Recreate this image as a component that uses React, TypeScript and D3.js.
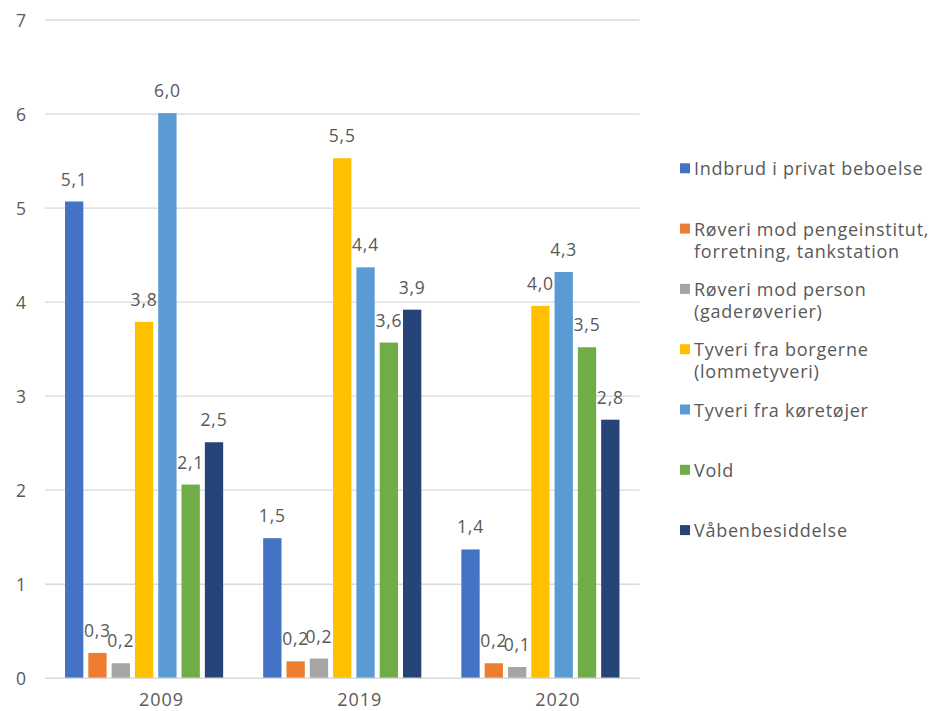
import React from "react";
import * as d3 from "d3";

const categories = ["2009", "2019", "2020"];
const seriesNames = [
  "Indbrud i privat beboelse",
  "Røveri mod pengeinstitut, forretning, tankstation",
  "Røveri mod person (gaderøverier)",
  "Tyveri fra borgerne (lommetyveri)",
  "Tyveri fra køretøjer",
  "Vold",
  "Våbenbesiddelse",
];
const legendLines = [
  ["Indbrud i privat beboelse"],
  ["Røveri mod pengeinstitut,", "forretning, tankstation"],
  ["Røveri mod person", "(gaderøverier)"],
  ["Tyveri fra borgerne", "(lommetyveri)"],
  ["Tyveri fra køretøjer"],
  ["Vold"],
  ["Våbenbesiddelse"],
];
const colors = ["#4472C4", "#ED7D31", "#A5A5A5", "#FFC000", "#5B9BD5", "#70AD47", "#264478"];
// values[series][category]
const indbrud = [5.07, 1.49, 1.37];
const roveriPenge = [0.27, 0.18, 0.16];
const roveriPerson = [0.16, 0.21, 0.12];
const tyveriBorgere = [3.79, 5.53, 3.96];
const tyveriKoretojer = [6.01, 4.37, 4.32];
const vold = [2.06, 3.57, 3.52];
const vaaben = [2.51, 3.92, 2.75];
const values = [indbrud, roveriPenge, roveriPerson, tyveriBorgere, tyveriKoretojer, vold, vaaben];
const yTicks = [0, 1, 2, 3, 4, 5, 6, 7];

const W = 932;
const H = 711;
const left = 45;
const right = 639.5;
const top = 20;
const bottom = 678.3;
const FONT = "'Open Sans', sans-serif";
const TEXT = "#595959";

export default function App() {
  const x0 = d3.scaleBand<string>().domain(categories).range([left, right]).paddingInner(0.202).paddingOuter(0.101);
  const x1 = d3
    .scaleBand<number>()
    .domain(d3.range(seriesNames.length))
    .range([0, x0.bandwidth()])
    .paddingInner(0.214)
    .paddingOuter(0);
  const y = d3.scaleLinear().domain([0, 7]).range([bottom, top]);
  const fmt = (v: number) => d3.format(".1f")(v).replace(".", ",");

  return (
    <svg width={W} height={H} style={{ position: "absolute", left: 0, top: 0, background: "#fff" }} fontFamily={FONT}>
      <rect width={W} height={H} fill="#fff" />
      {yTicks.map((t) => (
        <g key={t}>
          {t > 0 && <line x1={left} x2={right} y1={y(t)} y2={y(t)} stroke="#D9D9D9" strokeWidth={1.3} />}
          <text x={26} y={y(t)} textAnchor="end" dominantBaseline="central" fontSize={17.5} fill={TEXT}>
            {t}
          </text>
        </g>
      ))}
      {values.map((s, si) =>
        s.map((v, ci) => {
          const bx = (x0(categories[ci]) as number) + (x1(si) as number);
          return (
            <g key={`${si}-${ci}`}>
              <rect x={bx} y={y(v)} width={x1.bandwidth()} height={bottom - y(v)} fill={colors[si]} />
              <text
                x={bx + x1.bandwidth() / 2}
                y={y(v) - 16}
                textAnchor="middle"
                fontSize={17.5}
                letterSpacing={0.8}
                fill={TEXT}
              >
                {fmt(v)}
              </text>
            </g>
          );
        })
      )}
      <line x1={left} x2={right} y1={bottom} y2={bottom} stroke="#D9D9D9" strokeWidth={1.5} />
      {categories.map((c) => (
        <text
          key={c}
          x={(x0(c) as number) + x0.bandwidth() / 2 + 17.5}
          y={705.5}
          textAnchor="middle"
          fontSize={18}
          letterSpacing={1}
          fill={TEXT}
        >
          {c}
        </text>
      ))}
      {legendLines.map((lines, i) => {
        const cy = 168.3 + i * 60.3;
        return (
          <g key={i}>
            <rect x={680} y={cy - 5} width={10} height={10} fill={colors[i]} />
            {lines.map((l, li) => (
              <text
                key={li}
                x={694}
                y={cy + li * 22}
                dominantBaseline="central"
                fontSize={18}
                letterSpacing={0.75}
                fill={TEXT}
              >
                {l}
              </text>
            ))}
          </g>
        );
      })}
    </svg>
  );
}
